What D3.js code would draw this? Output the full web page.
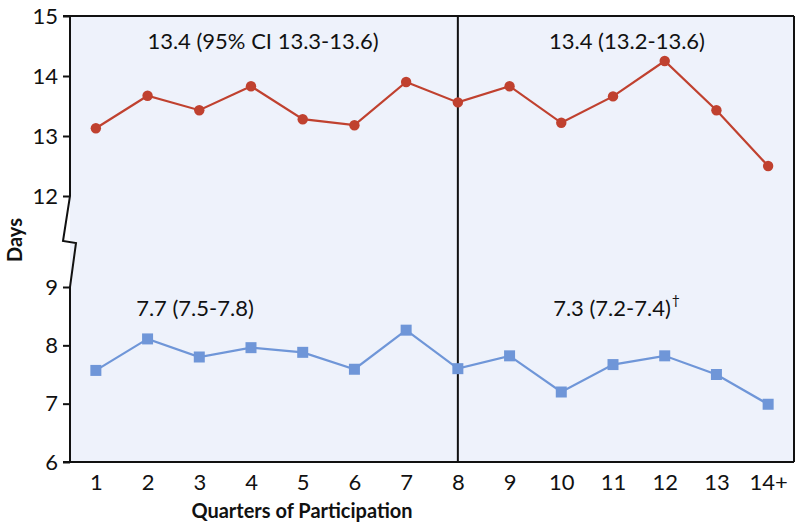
<!DOCTYPE html>
<html><head><meta charset="utf-8">
<script src="https://cdn.jsdelivr.net/npm/d3@7"></script>
<style>body{margin:0;background:#fff}svg{display:block}text{font-family:Lato,"Open Sans",sans-serif}</style>
</head><body><svg id="c" width="800" height="531"></svg>
<script>
const categories = ["1","2","3","4","5","6","7","8","9","10","11","12","13","14+"];
const redValues  = [13.13,13.67,13.43,13.83,13.28,13.18,13.90,13.56,13.83,13.22,13.66,14.25,13.43,12.50];
const blueValues = [7.57,8.11,7.80,7.96,7.88,7.59,8.26,7.60,7.82,7.20,7.67,7.82,7.50,6.99];
const topTicks = [12,13,14,15];
const bottomTicks = [6,7,8,9];
const annotations = [
  {text:"13.4 (95% CI 13.3-13.6)", seg:"top"},
  {text:"13.4 (13.2-13.6)", seg:"top"},
  {text:"7.7 (7.5-7.8)", seg:"bot"},
  {text:"7.3 (7.2-7.4)", sup:"†", seg:"bot"}
];
const divider = "8";

const svg = d3.select("#c");
const L=70, R=794, T=16, B=462;
const x = d3.scalePoint().domain(categories).range([L,R]).padding(0.5);
const yTop = d3.scaleLinear().domain([12,15]).range([196,T]);
const yBot = d3.scaleLinear().domain([6,9]).range([B,287]);

svg.append("rect").attr("x",L).attr("y",T).attr("width",R-L).attr("height",B-T).attr("fill","#eef2fb");

// frame
const g = svg.append("g").attr("fill","none").attr("stroke","#111").attr("stroke-width",2);
g.append("line").attr("x1",L-7).attr("x2",R).attr("y1",T).attr("y2",T);
g.append("line").attr("x1",L-7).attr("x2",R).attr("y1",B).attr("y2",B);
g.append("line").attr("x1",R).attr("x2",R).attr("y1",T).attr("y2",B);
g.append("path").attr("d",`M${L},${T}V${yTop(12)}L${L-7},241L${L+6},243L${L},${yBot(9)}V${B}`);
g.append("line").attr("x1",x(divider)).attr("x2",x(divider)).attr("y1",T).attr("y2",B);

function styleAxis(sel){
  sel.select(".domain").remove();
  sel.selectAll(".tick line").attr("stroke","#111").attr("stroke-width",2);
  sel.selectAll(".tick text").attr("font-size",22).attr("fill","#111").attr("font-family","Lato");
}
svg.append("g").attr("transform",`translate(${L},0)`)
  .call(d3.axisLeft(yTop).tickValues(topTicks).tickFormat(d3.format("d")).tickSize(7).tickPadding(5)).call(styleAxis);
svg.append("g").attr("transform",`translate(${L},0)`)
  .call(d3.axisLeft(yBot).tickValues(bottomTicks).tickFormat(d3.format("d")).tickSize(7).tickPadding(5)).call(styleAxis);
svg.append("g").attr("transform",`translate(0,${B})`)
  .call(d3.axisBottom(x).tickSize(0).tickPadding(12)).call(styleAxis);

// axis titles
svg.append("text").attr("x",302).attr("y",518).attr("text-anchor","middle")
  .attr("font-size",20).attr("font-weight","bold").attr("fill","#111").text("Quarters of Participation");
svg.append("text").attr("transform","translate(22,240) rotate(-90)").attr("text-anchor","middle")
  .attr("font-size",20).attr("font-weight","bold").attr("fill","#111").text("Days");

// lines
const red="#c0412f", blue="#6f96d8";
const lineTop = d3.line().x((d,i)=>x(categories[i])).y(d=>yTop(d));
const lineBot = d3.line().x((d,i)=>x(categories[i])).y(d=>yBot(d));
svg.append("path").attr("d",lineTop(redValues)).attr("fill","none").attr("stroke",red).attr("stroke-width",2.2);
svg.append("g").selectAll("circle").data(redValues).join("circle")
  .attr("cx",(d,i)=>x(categories[i])).attr("cy",d=>yTop(d)).attr("r",5.2).attr("fill",red);
svg.append("path").attr("d",lineBot(blueValues)).attr("fill","none").attr("stroke",blue).attr("stroke-width",2.2);
svg.append("g").selectAll("rect").data(blueValues).join("rect")
  .attr("x",(d,i)=>x(categories[i])-5.5).attr("y",d=>yBot(d)-5.5).attr("width",11).attr("height",11).attr("fill",blue);

// annotations
const centers = [263,627,195,612];
annotations.forEach((a,i)=>{
  const t = svg.append("text").attr("x",centers[i]).attr("y",a.seg==="top"?49:316)
    .attr("text-anchor","middle").attr("font-size",22).attr("fill","#111").text(a.text);
  if(a.sup){
    const bb = t.node().getBBox();
    svg.append("text").attr("x",bb.x+bb.width+1).attr("y",305).attr("font-size",14).attr("fill","#111").text(a.sup);
  }
});
</script></body></html>
